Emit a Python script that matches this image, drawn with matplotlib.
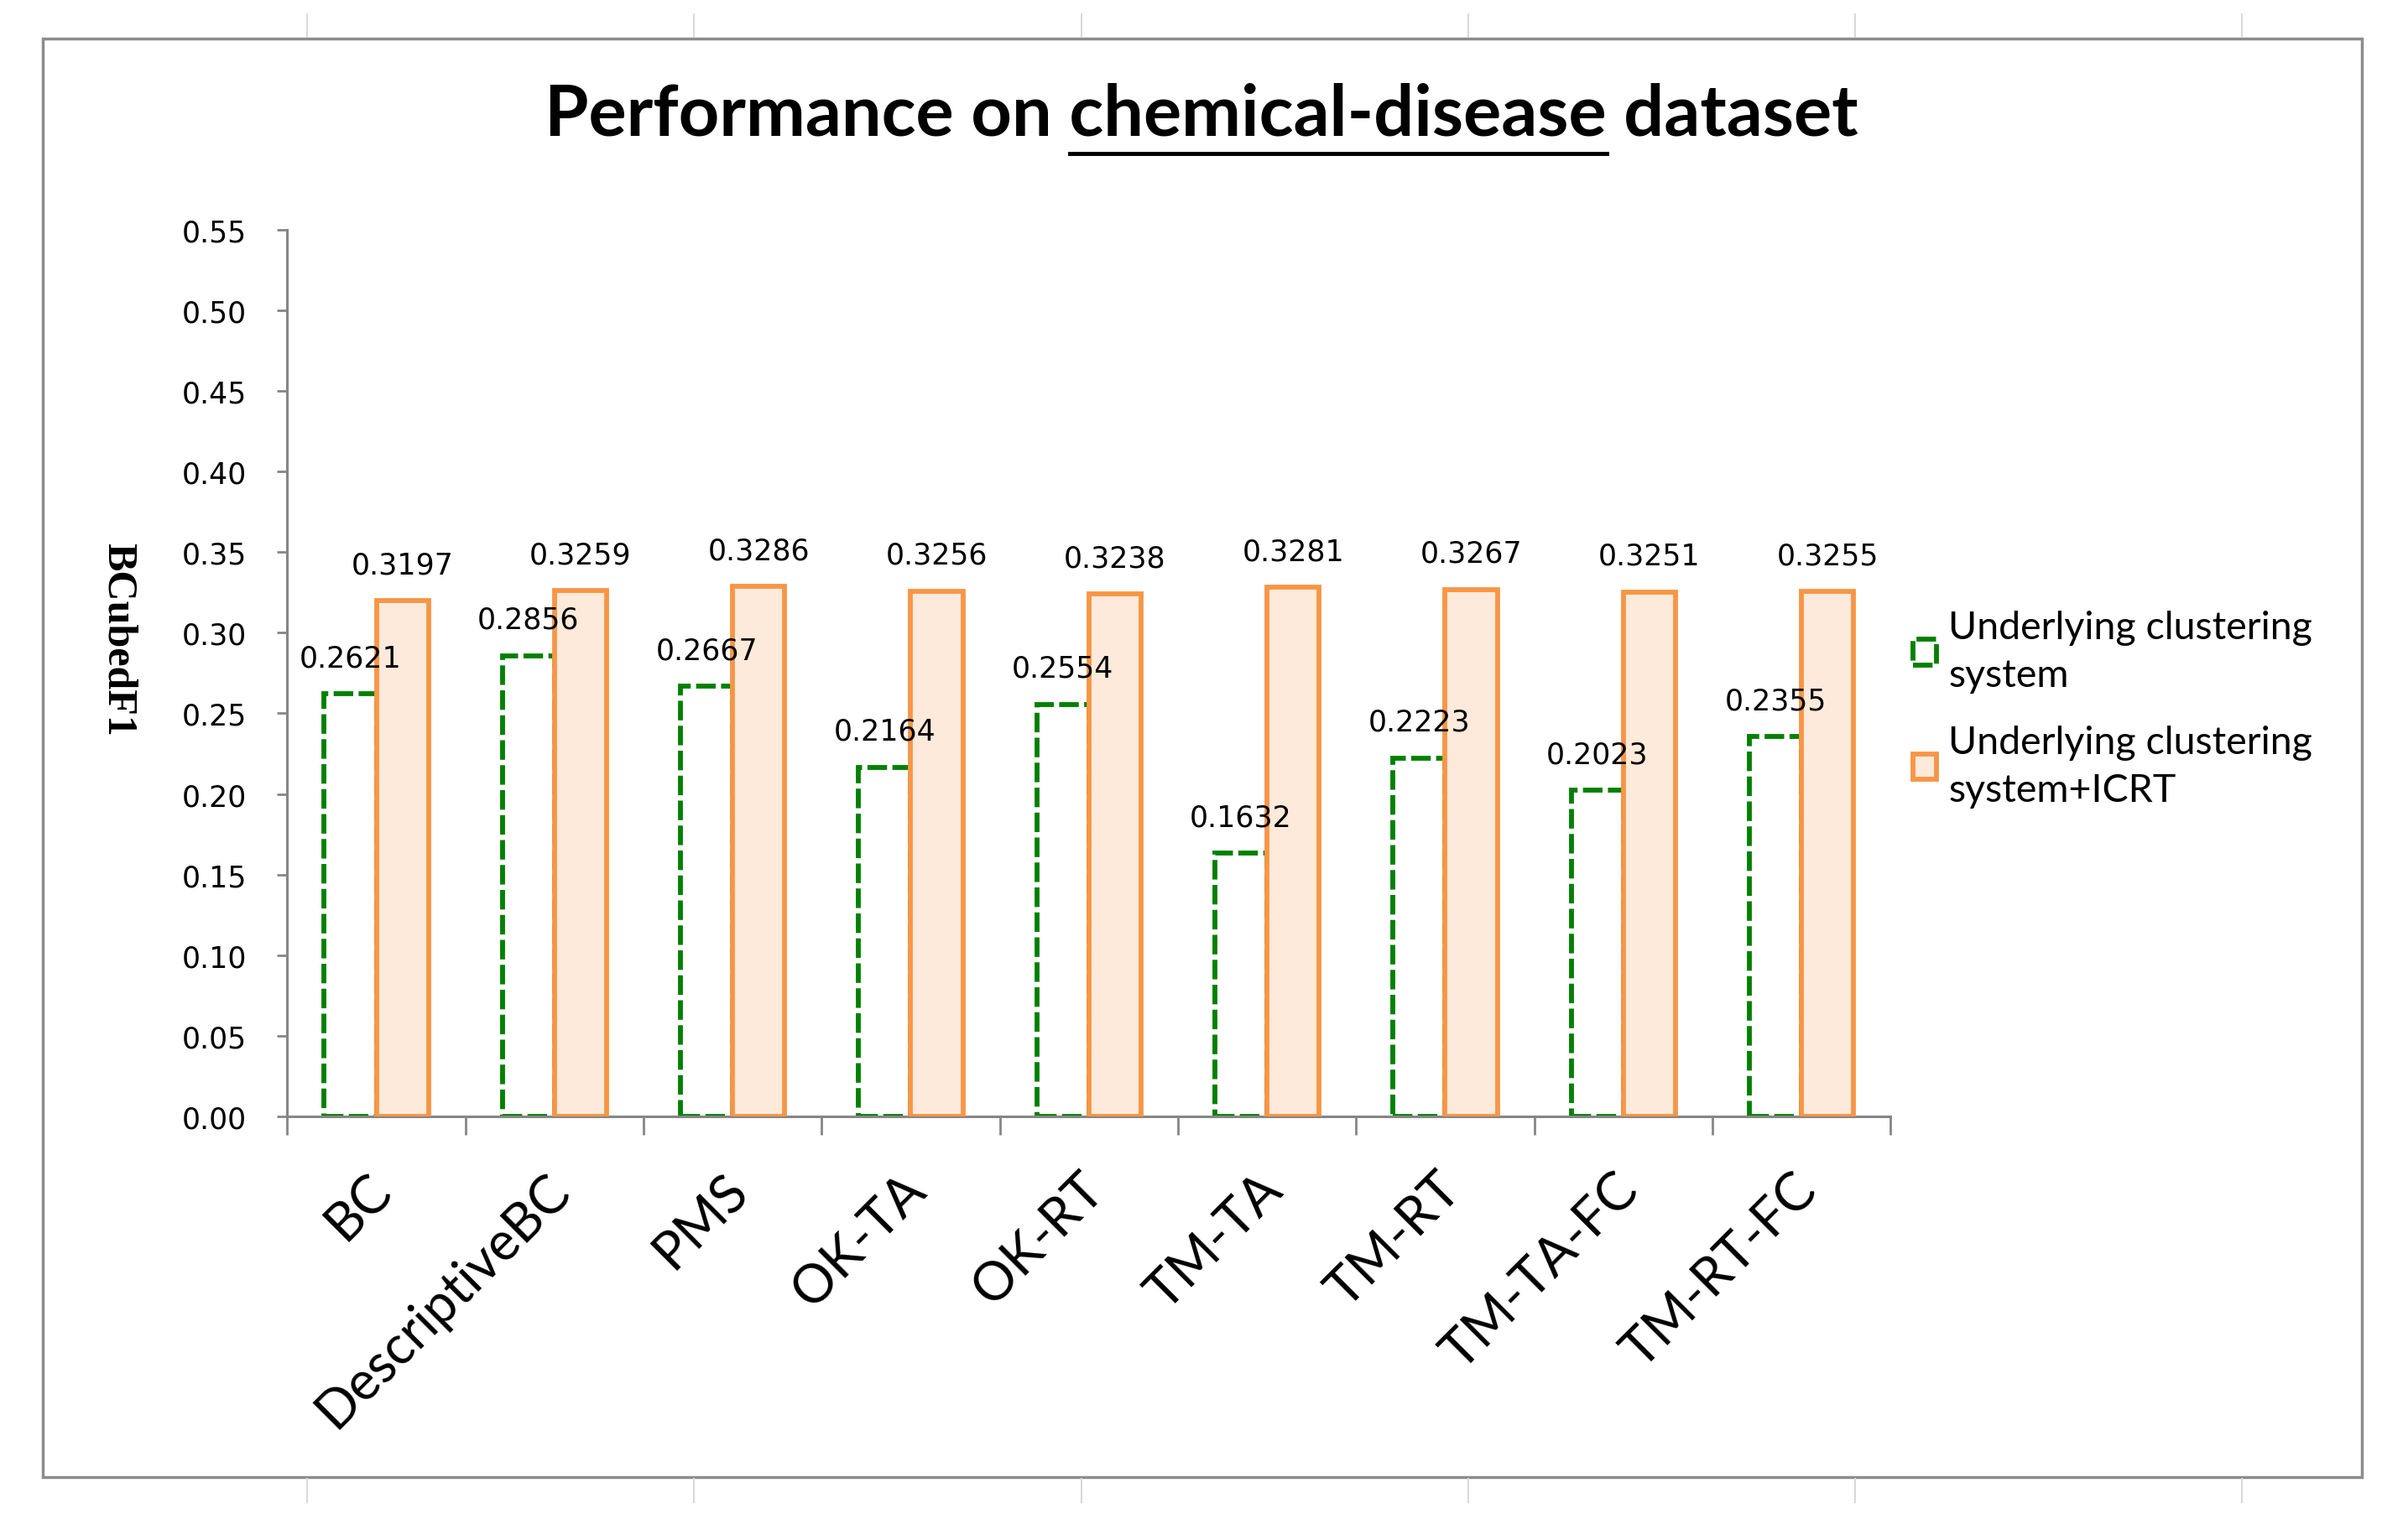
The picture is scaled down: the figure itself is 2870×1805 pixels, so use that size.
import matplotlib
matplotlib.use("Agg")
import matplotlib.pyplot as plt
import numpy as np
from matplotlib.lines import Line2D
from matplotlib.patches import Rectangle

categories = ["BC", "DescriptiveBC", "PMS", "OK-TA", "OK-RT", "TM-TA", "TM-RT", "TM-TA-FC", "TM-RT-FC"]
base_scores = [0.2621, 0.2856, 0.2667, 0.2164, 0.2554, 0.1632, 0.2223, 0.2023, 0.2355]
icrt_scores = [0.3197, 0.3259, 0.3286, 0.3256, 0.3238, 0.3281, 0.3267, 0.3251, 0.3255]
series_names = ["Underlying clustering\nsystem", "Underlying clustering\nsystem+ICRT"]
yticks = [0.00, 0.05, 0.10, 0.15, 0.20, 0.25, 0.30, 0.35, 0.40, 0.45, 0.50, 0.55]

GREEN = "#008000"
ORANGE = "#F79646"
PEACH = "#FDEADA"
GRAY = "#868686"

plt.rcParams["font.family"] = ["DejaVu Sans"]

fig = plt.figure(figsize=(28.7, 18.06), dpi=100)
ax = fig.add_axes([0.1193, 0.2624, 0.6658, 0.5856])

x = np.arange(len(categories))
w = 0.293
ax.bar(x - w / 2, base_scores, w, fill=False, edgecolor=GREEN, linewidth=4.2,
       linestyle=(0, (4, 1.1)), label=series_names[0], zorder=2)
ax.bar(x + w / 2, icrt_scores, w, facecolor=PEACH, edgecolor=ORANGE, linewidth=4.2,
       label=series_names[1], zorder=3)

for xi, v in zip(x - w / 2, base_scores):
    ax.annotate(f"{v:.4f}", (xi, v), xytext=(0, 31), textcoords="offset points",
                ha="center", va="center", fontsize=25)
for xi, v in zip(x + w / 2, icrt_scores):
    ax.annotate(f"{v:.4f}", (xi, v), xytext=(0, 31), textcoords="offset points",
                ha="center", va="center", fontsize=25)

ax.set_xlim(-0.5, len(categories) - 0.5)
ax.set_ylim(0, 0.55)
ax.set_yticks(yticks)
ax.set_yticklabels([f"{t:.2f}" for t in yticks], fontsize=25)
ax.tick_params(axis="y", length=9, width=2, color=GRAY, pad=26)

ax.set_xticks(x + 0.04)
ax.set_xticklabels(categories, rotation=45, ha="right", va="center",
                   rotation_mode="anchor", fontsize=45.5, family=["Lato", "DejaVu Sans"])
ax.tick_params(axis="x", which="major", length=0, pad=56)
ax.set_xticks(np.arange(-0.5, len(categories)), minor=True)
ax.tick_params(axis="x", which="minor", length=16, width=2, color=GRAY)

for s in ["top", "right"]:
    ax.spines[s].set_visible(False)
for s in ["left", "bottom"]:
    ax.spines[s].set_color(GRAY)
    ax.spines[s].set_linewidth(2.2)

leg = ax.legend(loc="upper left", bbox_to_anchor=(0.780, 0.620), bbox_transform=fig.transFigure,
                frameon=False, prop={"family": ["Lato", "DejaVu Sans"], "size": 33.5},
                handlelength=0.6, handleheight=0.62, handletextpad=0.3, labelspacing=0.8)
for txt in leg.get_texts():
    txt.set_linespacing(1.45)

fig.text(0.049, 0.578, "BCubedF1", rotation=-90, ha="center", va="center",
         fontsize=36, fontweight="bold", family=["Liberation Serif", "DejaVu Serif"])

# title with underlined middle word
title = "Performance on chemical-disease dataset"
tkw = dict(fontsize=61, fontweight="bold", family=["Lato", "DejaVu Sans"])
t = fig.text(0.499, 0.924, title, ha="center", va="center", **tkw)
fig.canvas.draw()
r = fig.canvas.get_renderer()
bb = t.get_window_extent(r)
tmp = fig.text(0, 0, "Performance on chemical-disease", **tkw)
w_pre = tmp.get_window_extent(r).width
tmp.set_text("chemical-disease")
w_word = tmp.get_window_extent(r).width
tmp.remove()
W, H = fig.bbox.width, fig.bbox.height
x_end = (bb.x0 + w_pre) / W
x_start = x_end - w_word / W
fig.add_artist(Line2D([x_start, x_end], [0.898, 0.898], color="black", lw=3.5,
                      transform=fig.transFigure))

# chart area border + faint sheet gridlines outside it
fig.add_artist(Rectangle((0.0179, 0.0243), 0.9630, 0.9494, fill=False, edgecolor="#8c8c8c",
                         linewidth=2.5, transform=fig.transFigure))
for gx in [200, 452, 704, 956, 1208, 1460]:
    fx = gx / 1568
    fig.add_artist(Line2D([fx, fx], [0.975, 0.99], color="#d9d9d9", lw=1.5, transform=fig.transFigure))
    fig.add_artist(Line2D([fx, fx], [0.008, 0.023], color="#d9d9d9", lw=1.5, transform=fig.transFigure))

fig.savefig("out.png", dpi=100)
